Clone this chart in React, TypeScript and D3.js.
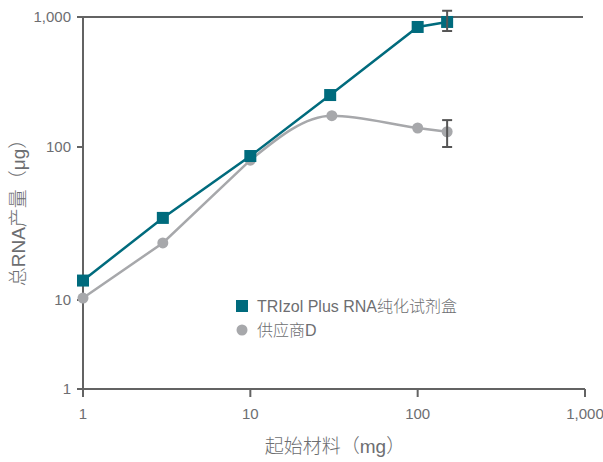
import React from "react";
import * as d3 from "d3";

const xTicks = [1, 10, 100, 1000];
const yTicks = [1, 10, 100, 1000];
const trizolX = [1, 3, 10, 30, 100, 150];
const trizolY = [13.4, 34.4, 87.3, 251, 838, 916];
const vendorX = [1, 3, 10, 30.7, 100, 150];
const vendorY = [10.3, 23.6, 82, 174, 140, 131];
const trizolErr = [{ x: 150, lo: 780, hi: 1117 }];
const vendorErr = [{ x: 150, lo: 100, hi: 161 }];
const seriesNames = ["TRIzol Plus RNA纯化试剂盒", "供应商D"];

const TEAL = "#006b7d";
const GRAY = "#a7a8ab";
const AXIS = "#636363";
const TEXT = "#6d6e71";
const FONT = "'Liberation Sans', 'Noto Sans CJK SC', sans-serif";

export default function App() {
  const width = 603;
  const height = 462;
  const x = d3.scaleLog().domain([1, 1000]).range([83, 585]);
  // the original y axis is not evenly spaced per decade
  const y = d3.scaleLog().domain([1, 10, 100, 1000]).range([389, 300, 147, 17]);

  const tri = trizolX.map((v, i) => [x(v), y(trizolY[i])] as [number, number]);
  const ven = vendorX.map((v, i) => [x(v), y(vendorY[i])] as [number, number]);
  const straight = d3.line();
  const smooth = d3.line().curve(d3.curveMonotoneX);
  // vendor line: straight up to 10 mg, smoothed after
  const venPath = (straight(ven.slice(0, 3)) || "") + (smooth(ven.slice(2)) || "").replace(/^M[^A-Za-z]*/, "");

  const errBar = (e: { x: number; lo: number; hi: number }, key: string) => {
    const cx = x(e.x);
    return (
      <g key={key} stroke="#555" strokeWidth={2}>
        <line x1={cx} x2={cx} y1={y(e.lo)} y2={y(e.hi)} />
        <line x1={cx - 5} x2={cx + 5} y1={y(e.lo)} y2={y(e.lo)} />
        <line x1={cx - 5} x2={cx + 5} y1={y(e.hi)} y2={y(e.hi)} />
      </g>
    );
  };

  return (
    <svg width={width} height={height} style={{ position: "absolute", left: 0, top: 0 }} fontFamily={FONT} fontWeight={300}>
      {/* top line at 1,000 */}
      <line x1={x(1)} x2={583} y1={y(1000)} y2={y(1000)} stroke={AXIS} strokeWidth={2} />
      {/* axes */}
      <line x1={x(1)} x2={x(1)} y1={y(1000)} y2={y(1)} stroke={AXIS} strokeWidth={2} />
      <line x1={x(1)} x2={x(1000)} y1={y(1)} y2={y(1)} stroke={AXIS} strokeWidth={2} />
      {yTicks.map((t) => (
        <g key={"y" + t}>
          <line x1={x(1) - 6} x2={x(1)} y1={y(t)} y2={y(t)} stroke={AXIS} strokeWidth={2} />
          <text x={71} y={y(t)} dy="0.35em" textAnchor="end" fontSize={15} fill={TEXT}>
            {d3.format(",")(t)}
          </text>
        </g>
      ))}
      {xTicks.map((t) => (
        <g key={"x" + t}>
          <line x1={x(t)} x2={x(t)} y1={y(1)} y2={y(1) + 8} stroke={AXIS} strokeWidth={2} />
          <text x={x(t)} y={419} textAnchor="middle" fontSize={15} fill={TEXT}>
            {d3.format(",")(t)}
          </text>
        </g>
      ))}
      <text x={335} y={453} textAnchor="middle" fontSize={19} fill={TEXT}>
        起始材料（mg）
      </text>
      <text transform="translate(25,208) rotate(-90)" textAnchor="middle" fontSize={19} fill={TEXT}>
        总RNA产量（μg）
      </text>

      {/* series */}
      <path d={venPath} fill="none" stroke={GRAY} strokeWidth={2.5} />
      <path d={straight(tri) || ""} fill="none" stroke={TEAL} strokeWidth={2.5} />
      {ven.map((p, i) => (
        <circle key={"v" + i} cx={p[0]} cy={p[1]} r={5.5} fill={GRAY} />
      ))}
      {tri.map((p, i) => (
        <rect key={"t" + i} x={p[0] - 6} y={p[1] - 6} width={12} height={12} fill={TEAL} />
      ))}
      {trizolErr.map((e, i) => errBar(e, "te" + i))}
      {vendorErr.map((e, i) => errBar(e, "ve" + i))}

      {/* legend */}
      <rect x={236} y={300} width={12} height={12} fill={TEAL} />
      <text x={257} y={306} dy="0.35em" fontSize={16} fill={TEXT}>
        {seriesNames[0]}
      </text>
      <circle cx={242} cy={330} r={5.5} fill={GRAY} />
      <text x={257} y={330} dy="0.35em" fontSize={16} fill={TEXT}>
        {seriesNames[1]}
      </text>
    </svg>
  );
}
